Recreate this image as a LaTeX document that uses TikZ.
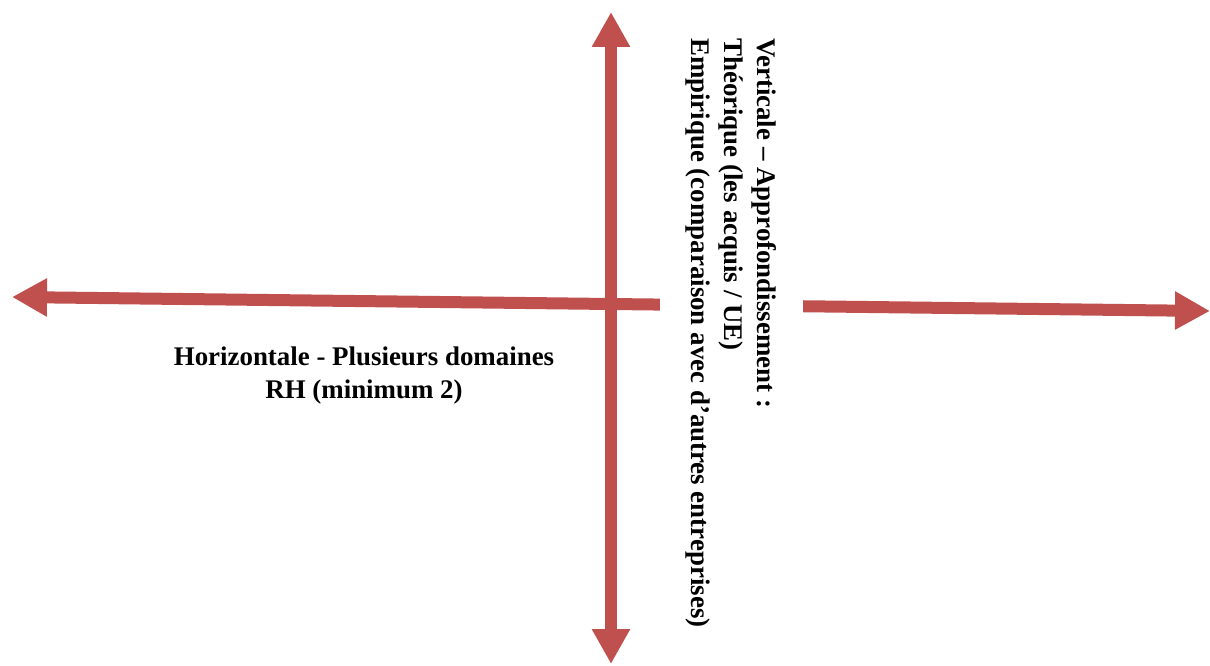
\documentclass[tikz,border=0pt]{standalone}
\usepackage{fontspec}
\setmainfont{Liberation Serif}
\usetikzlibrary{arrows.meta,positioning}
\definecolor{axisred}{RGB}{192,80,77}

\begin{document}
\begin{tikzpicture}[
  x = 1pt, y = -1pt,
  axis/.style = {draw=axisred, line width=12pt,
                 {Triangle[length=35pt,width=36pt]}-{Triangle[length=35pt,width=36pt]}},
  lbl/.style  = {font=\bfseries\fontsize{26.9}{33}\selectfont, inner sep=0pt}
]
\useasboundingbox (0,0) rectangle (1210,666);

% ───────── ends of the axes ─────────
\coordinate (left)   at (12,297);
\coordinate (right)  at (1210,311);
\coordinate (top)    at (611,12);
\coordinate (bottom) at (611,664);

% ───────── axes ─────────
\draw[axis] (left) -- (right);
\draw[axis] (top) -- (bottom);

% ───────── labels ─────────
\node[lbl, rotate=-90, fill=white, align=left, anchor=west,
      inner xsep=2pt, inner ysep=26pt] (vert) at (731.5,36)
  {Verticale – Approfondissement :\\Théorique (les acquis / UE)\\Empirique (comparaison avec d’autres entreprises)};
\node[lbl, align=center] (horiz) at (364,376)
  {Horizontale - Plusieurs domaines\\RH (minimum 2)};

\end{tikzpicture}
\end{document}
